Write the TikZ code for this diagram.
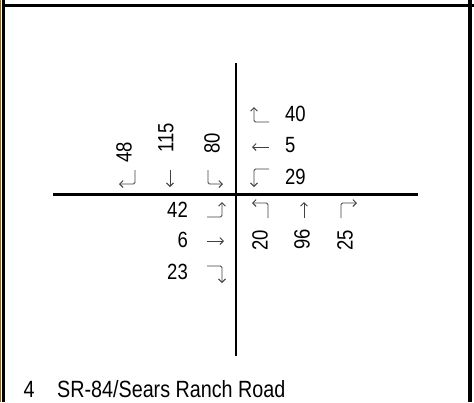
\documentclass[tikz,border=0pt]{standalone}
\usepackage{fontspec}
\setmainfont{Liberation Sans}[FakeStretch=0.84]
\usetikzlibrary{arrows.meta}
\tikzset{
  frame/.style={line width=3.2pt},
  road/.style={line width=2.6pt},
  mv/.style={line width=0.9pt, draw=black!75, rounded corners=1.5pt,
    -{Straight Barb[length=3.5pt,width=7pt]}},
  vol/.style={inner sep=0pt, font=\fontsize{22}{25}\selectfont},
  volv/.style={vol, rotate=90},
}
\begin{document}
\begin{tikzpicture}[x=1pt,y=-1pt]
\useasboundingbox (0,0) rectangle (474,402);
\begin{scope}
\draw[draw={rgb,255:red,140;green,100;blue,50}, line width=1.2pt] (0.6,0) -- (0.6,402);
\draw[frame] (3.2,0) -- (3.2,402);
\draw[frame] (3.2,5.5) -- (474,5.5);
\draw[frame] (470,0) -- (470,402);
\end{scope}
\begin{scope}
\draw[road] (236,63) -- (236,356);
\draw[road, line width=3pt] (53,194) -- (418,194);
\end{scope}
% southbound
\node[volv] (sbR) at (124,152) {48};
\node[volv] (sbT) at (166,138) {115};
\node[volv] (sbL) at (212,143) {80};
\draw[mv] (135,170) -- (135,184) -- (119,184);
\draw[mv] (170,170) -- (170,187);
\draw[mv] (208,170) -- (208,184) -- (223,184);
% westbound
\node[vol, anchor=west] (wbR) at (285,113.5) {40};
\node[vol, anchor=west] (wbT) at (285,145.5) {5};
\node[vol, anchor=west] (wbL) at (285,176.5) {29};
\draw[mv] (269,122) -- (254,122) -- (254,107);
\draw[mv] (269,147) -- (252,147);
\draw[mv] (269,169) -- (254,169) -- (254,187);
% northbound
\node[volv] (nbL) at (260,240) {20};
\node[volv] (nbT) at (302,239) {96};
\node[volv] (nbR) at (345,240) {25};
\draw[mv] (268,218) -- (268,203) -- (252,203);
\draw[mv] (304,218) -- (304,202);
\draw[mv] (341,218) -- (341,203) -- (357,203);
% eastbound
\node[vol, anchor=east] (ebL) at (188,210) {42};
\node[vol, anchor=east] (ebT) at (188,240) {6};
\node[vol, anchor=east] (ebR) at (188,272) {23};
\draw[mv] (207,217) -- (222,217) -- (222,202);
\draw[mv] (207,241) -- (224,241);
\draw[mv] (207,266) -- (222,266) -- (222,283);
% intersection name
\node[vol, font=\fontsize{23.5}{26}\selectfont, anchor=base] (intNo) at (29,397) {4};
\node[vol, font=\fontsize{23.5}{26}\selectfont, anchor=base west] (intName) at (57,397) {SR-84/Sears Ranch Road};
\end{tikzpicture}
\end{document}
